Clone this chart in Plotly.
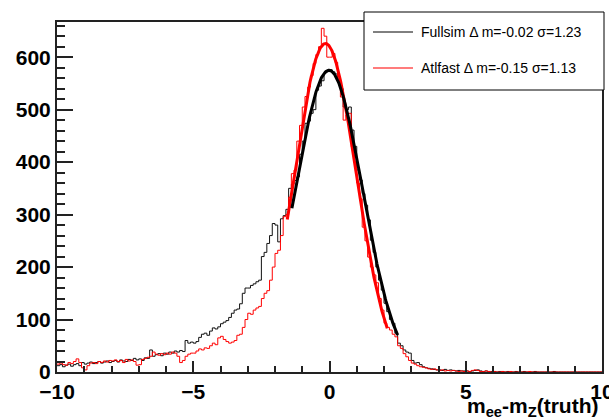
import numpy as np
import plotly.graph_objects as go

# ---- data: 200 bins of width 0.1 from -10 to 10 ----
bin_lo, bin_hi, n_bins = -10.0, 10.0, 200

fullsim = [
    12, 14, 10, 13, 15, 11, 14, 16, 12, 18,
    15, 17, 19, 16, 18, 20, 17, 19, 21, 18,
    20, 22, 19, 23, 21, 20, 24, 22, 26, 23,
    25, 22, 27, 26, 42, 30, 33, 35, 31, 36,
    34, 38, 36, 40, 38, 41, 39, 60, 55, 57,
    55, 58, 66, 72, 74, 70, 78, 84, 82, 86,
    92, 95, 98, 104, 112, 118, 120, 130, 150, 160,
    160, 165, 168, 172, 175, 220, 228, 245, 260, 283,
    280, 248, 292, 298, 310, 350, 358, 365, 372, 415,
    440, 474, 478, 493, 500, 537, 545, 555, 570, 575,
    576, 572, 568, 555, 540, 505, 500, 505, 461, 430,
    385, 366, 340, 318, 290, 251, 228, 200, 175, 156,
    131, 115, 100, 93, 74, 55, 50, 42, 38, 36,
    22, 17, 18, 14, 10, 8, 7, 6, 5, 4,
    4, 3, 5, 3, 4, 3, 2, 3, 2, 2,
    2, 1, 2, 3, 4, 2, 1, 2, 1, 1,
    1, 0, 1, 1, 0, 1, 0, 0, 1, 0,
    0, 1, 0, 0, 0, 1, 0, 0, 0, 0,
    0, 0, 1, 0, 0, 0, 0, 0, 0, 0,
    0, 0, 0, 0, 0, 0, 0, 0, 0, 0,
]

atlfast = [
    15, 17, 14, 13, 18, 16, 20, 25, 18, 8,
    4, 12, 17, 18, 16, 20, 18, 21, 19, 22,
    21, 23, 20, 22, 18, 24, 21, 23, 20, 13,
    14, 24, 26, 28, 30, 38, 34, 32, 35, 33,
    36, 34, 38, 36, 30, 18, 22, 30, 34, 36,
    36, 40, 44, 42, 46, 45, 50, 55, 52, 65,
    68, 62, 58, 55, 57, 60, 70, 72, 85, 100,
    112, 110, 118, 122, 125, 140, 150, 155, 175, 200,
    226, 232, 260, 296, 300, 333, 378, 385, 440, 470,
    505, 525, 543, 565, 588, 605, 620, 655, 640, 600,
    600, 607, 590, 560, 524, 480, 490, 493, 429, 400,
    360, 330, 276, 250, 219, 200, 185, 170, 140, 118,
    93, 85, 80, 72, 67, 50, 45, 35, 29, 22,
    17, 15, 12, 10, 9, 8, 6, 5, 6, 4,
    3, 4, 2, 3, 2, 3, 2, 1, 2, 1,
    2, 1, 3, 4, 3, 1, 1, 2, 1, 0,
    1, 0, 0, 1, 0, 0, 1, 0, 0, 0,
    0, 0, 0, 1, 0, 0, 0, 0, 0, 0,
    0, 0, 0, 0, 0, 0, 0, 0, 0, 0,
    0, 0, 0, 0, 0, 0, 0, 0, 0, 0,
]

# Gaussian fit parameters (amplitude, mean, sigma, fit range)
fit_full = dict(amp=575, mean=-0.02, sigma=1.23, lo=-1.38, hi=2.50)
fit_atl = dict(amp=626, mean=-0.15, sigma=1.13, lo=-1.55, hi=2.12)

legend_full = "Fullsim \u0394 m=-0.02 \u03c3=1.23"
legend_atl = "Atlfast \u0394 m=-0.15 \u03c3=1.13"

# ---- figure ----
edges = np.linspace(bin_lo, bin_hi, n_bins + 1)


def step(vals):
    return list(edges), list(vals) + [vals[-1]]


def gauss(p):
    x = np.linspace(p["lo"], p["hi"], 200)
    return x, p["amp"] * np.exp(-0.5 * ((x - p["mean"]) / p["sigma"]) ** 2)


fig = go.Figure()
xs, ys = step(fullsim)
fig.add_trace(go.Scatter(x=xs, y=ys, mode="lines", line=dict(color="#111", width=1, shape="hv"),
                         showlegend=False, hoverinfo="skip"))
xs, ys = step(atlfast)
fig.add_trace(go.Scatter(x=xs, y=ys, mode="lines", line=dict(color="#ff0000", width=1, shape="hv"),
                         showlegend=False, hoverinfo="skip"))
gx, gy = gauss(fit_atl)
fig.add_trace(go.Scatter(x=gx, y=gy, mode="lines", line=dict(color="#ff0000", width=3),
                         showlegend=False, hoverinfo="skip"))
gx, gy = gauss(fit_full)
fig.add_trace(go.Scatter(x=gx, y=gy, mode="lines", line=dict(color="black", width=3),
                         showlegend=False, hoverinfo="skip"))

W, H = 609, 419
L, R, T, B = 57, 7, 22, 47
pw, ph = W - L - R, H - T - B


def px(x):
    return (x - L) / pw


def py(y):
    return (H - B - y) / ph


tickfont = dict(family="Liberation Sans, Arial, sans-serif", size=21, color="black", weight="bold")

fig.update_layout(
    width=W, height=H,
    margin=dict(l=L, r=R, t=T, b=B, autoexpand=False),
    paper_bgcolor="white", plot_bgcolor="white",
    xaxis=dict(range=[-10, 10], tick0=-10, dtick=5, ticks="inside", ticklen=11, tickwidth=1.5,
               tickcolor="#222", showgrid=False, zeroline=False, showline=True, linecolor="#222",
               linewidth=2, mirror=True, tickfont=tickfont, automargin=False,
               ticklabeloverflow="allow",
               minor=dict(dtick=1, ticks="inside", ticklen=6, tickwidth=1.5, tickcolor="#222", showgrid=False)),
    yaxis=dict(range=[0, 667], tick0=0, dtick=100, ticks="inside", ticklen=16, tickwidth=1.5,
               tickcolor="#222", showgrid=False, zeroline=False, showline=True, linecolor="#222",
               linewidth=2, mirror=True, tickfont=tickfont, automargin=False,
               ticklabeloverflow="allow",
               minor=dict(dtick=20, ticks="inside", ticklen=8, tickwidth=1.5, tickcolor="#222", showgrid=False)),
)

# legend box
fig.add_shape(type="rect", xref="paper", yref="paper", x0=px(364), x1=px(604), y0=py(90), y1=py(12),
              line=dict(color="black", width=1), fillcolor="white", layer="above")
fig.add_shape(type="line", xref="paper", yref="paper", x0=px(373), x1=px(413), y0=py(32), y1=py(32),
              line=dict(color="black", width=1), layer="above")
fig.add_shape(type="line", xref="paper", yref="paper", x0=px(373), x1=px(413), y0=py(68), y1=py(68),
              line=dict(color="#ff5050", width=1.5), layer="above")
legfont = dict(family="Liberation Sans, Arial, sans-serif", size=14, color="black")
fig.add_annotation(xref="paper", yref="paper", x=px(419), y=py(32), xanchor="left", yanchor="middle",
                   text=legend_full, showarrow=False, font=legfont)
fig.add_annotation(xref="paper", yref="paper", x=px(419), y=py(68), xanchor="left", yanchor="middle",
                   text=legend_atl, showarrow=False, font=legfont)

# x-axis title
fig.add_annotation(xref="paper", yref="paper", x=px(601), y=py(407), xanchor="right", yanchor="middle",
                   text="m<sub>ee</sub>-m<sub>Z</sub>(truth)", showarrow=False,
                   font=dict(family="Liberation Sans, Arial, sans-serif", size=21, color="black", weight="bold"))

fig.write_html("out.html")
